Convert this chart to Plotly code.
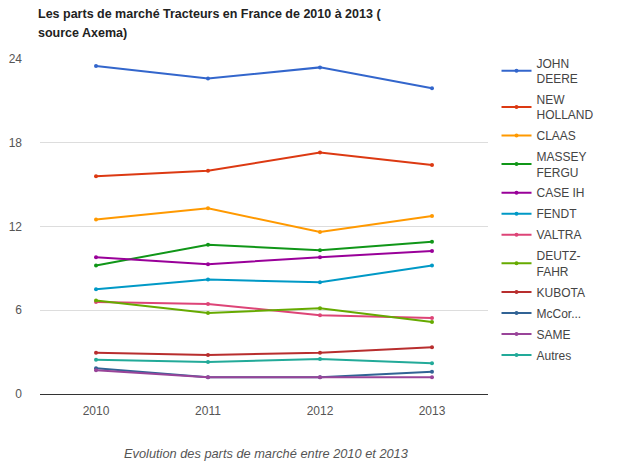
import plotly.graph_objects as go

years = ["2010", "2011", "2012", "2013"]

marques = ["JOHN<br>DEERE", "NEW<br>HOLLAND", "CLAAS", "MASSEY<br>FERGU", "CASE IH", "FENDT",
           "VALTRA", "DEUTZ-<br>FAHR", "KUBOTA", "McCor...", "SAME", "Autres"]

john_deere = [23.5, 22.6, 23.4, 21.9]
new_holland = [15.6, 16.0, 17.3, 16.4]
claas = [12.5, 13.3, 11.6, 12.75]
massey = [9.2, 10.7, 10.3, 10.9]
case_ih = [9.8, 9.3, 9.8, 10.25]
fendt = [7.5, 8.2, 8.0, 9.2]
valtra = [6.6, 6.45, 5.65, 5.45]
deutz = [6.7, 5.8, 6.15, 5.15]
kubota = [2.95, 2.8, 2.95, 3.35]
mccormick = [1.85, 1.2, 1.2, 1.6]
same = [1.7, 1.2, 1.2, 1.2]
autres = [2.45, 2.3, 2.5, 2.2]

series = [john_deere, new_holland, claas, massey, case_ih, fendt,
          valtra, deutz, kubota, mccormick, same, autres]
couleurs = ["#3366cc", "#dc3912", "#ff9900", "#109618", "#990099", "#0099c6",
            "#dd4477", "#66aa00", "#b82e2e", "#316395", "#994499", "#22aa99"]

titre = ["Les parts de marché Tracteurs en France de 2010 à 2013 (", "source Axema)"]
legende = "Evolution des parts de marché entre 2010 et 2013"

fig = go.Figure()
for i, (nom, vals, c) in enumerate(zip(marques, series, couleurs)):
    fig.add_trace(go.Scatter(x=years, y=vals, name=nom, mode="lines+markers", legendgroup=str(i),
                             line=dict(color=c, width=2), marker=dict(size=4, color=c)))

# la page a une marge de 8px autour du graphique
fig.update_layout(
    width=604, height=454,
    margin=dict(l=32, r=122, t=51, b=68),
    plot_bgcolor="white", paper_bgcolor="white",
    font=dict(family="Liberation Sans, Arial, sans-serif", size=12, color="#444"),
    legend=dict(x=1.019, y=1.031, xanchor="left", yanchor="top", maxheight=420,
                tracegroupgap=2, font=dict(size=12, color="#444")),
    showlegend=True,
)
fig.update_xaxes(type="category", range=[-0.5, 3.5], showgrid=False, showline=False,
                 automargin=False, ticks="", ticklabelstandoff=8,
                 tickfont=dict(size=12, color="#555"))
fig.update_yaxes(range=[0, 24], tickvals=[0, 6, 12, 18, 24], gridcolor="#dddddd",
                 zeroline=True, zerolinecolor="#333", zerolinewidth=1, automargin=False,
                 ticks="", ticklabelstandoff=17, tickfont=dict(size=12, color="#555"))
for ligne, yy in zip(titre, [1.1343, 1.0776]):
    fig.add_annotation(text="<b>" + ligne + "</b>", xref="paper", yref="paper",
                       x=-0.009, y=yy, xanchor="left", yanchor="middle", showarrow=False,
                       font=dict(size=12.5, color="#222"))
fig.add_annotation(text="<i>" + legende + "</i>",
                   xref="paper", yref="paper", x=0.504, y=-0.205, showarrow=False,
                   font=dict(size=12.8, color="#555"))

fig.write_html("out.html")
